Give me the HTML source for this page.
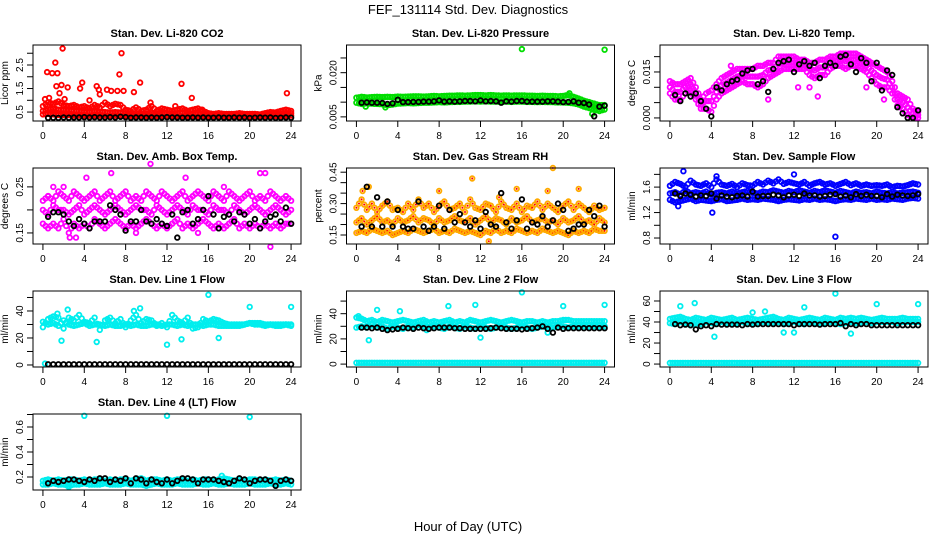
<!DOCTYPE html>
<html><head><meta charset="utf-8"><style>
html,body{margin:0;padding:0;background:#fff;}
svg{display:block;font-family:"Liberation Sans",Arial,sans-serif;}
</style></head><body>
<svg id="chart" width="936" height="540" viewBox="0 0 936 540" xmlns="http://www.w3.org/2000/svg">
<text x="468" y="14" text-anchor="middle" font-size="13">FEF_131114  Std. Dev. Diagnostics</text>
<text x="468" y="531" text-anchor="middle" font-size="13">Hour of Day (UTC)</text>
<g id="panels"></g>
</svg>
<script>
// Shared hour grid (categories)
const hours = [0,0.5,1,1.5,2,2.5,3,3.5,4,4.5,5,5.5,6,6.5,7,7.5,8,8.5,9,9.5,10,10.5,11,11.5,12,12.5,13,13.5,14,14.5,15,15.5,16,16.5,17,17.5,18,18.5,19,19.5,20,20.5,21,21.5,22,22.5,23,23.5,24];
const xTicks = [0,4,8,12,16,20,24];

// Panel 1: Li-820 CO2
const co2Lo = [0.40,0.42,0.40,0.38,0.38,0.37,0.36,0.36,0.36,0.35,0.36,0.35,0.35,0.34,0.35,0.34,0.34,0.33,0.34,0.33,0.33,0.33,0.33,0.32,0.32,0.32,0.32,0.32,0.32,0.31,0.32,0.31,0.31,0.32,0.31,0.31,0.31,0.31,0.31,0.31,0.31,0.31,0.31,0.32,0.32,0.33,0.33,0.34,0.35];
const co2Mid = [0.55,0.62,0.65,0.60,0.60,0.58,0.55,0.55,0.52,0.50,0.55,0.52,0.50,0.48,0.50,0.48,0.45,0.42,0.45,0.42,0.42,0.45,0.42,0.44,0.45,0.42,0.45,0.48,0.45,0.42,0.45,0.40,0.38,0.38,0.37,0.37,0.37,0.36,0.38,0.38,0.37,0.37,0.36,0.38,0.40,0.40,0.42,0.45,0.45];
const co2Hi = [0.75,0.90,0.85,0.95,0.80,0.75,0.80,0.70,0.75,0.65,0.80,0.70,0.90,0.75,0.85,0.80,0.60,0.55,0.70,0.55,0.60,0.75,0.55,0.65,0.60,0.55,0.60,0.65,0.55,0.60,0.65,0.55,0.45,0.42,0.45,0.42,0.42,0.42,0.45,0.42,0.42,0.42,0.40,0.45,0.50,0.48,0.55,0.60,0.55];
const co2OutH = [0.2,0.4,0.6,0.9,1.2,1.3,1.4,1.6,1.8,1.9,2.1,2.4,3.6,3.8,4.5,5.2,5.4,5.5,6.2,6.6,7.2,7.4,7.6,7.8,8.8,9.4,10.4,12.8,13.4,14.4,15.4,23.6];
const co2OutV = [1.05,2.2,1.1,2.15,2.6,1.6,2.15,1.3,1.65,3.2,1.05,1.55,1.5,1.75,1.0,1.6,1.45,1.25,1.45,1.4,1.4,2.1,3.0,1.4,1.35,1.75,0.9,0.75,1.7,1.1,0.6,1.3];
const co2Black = [null,0.25,0.26,0.25,0.27,0.26,0.27,0.27,0.28,0.27,0.28,0.27,0.27,0.28,0.27,0.30,0.28,0.26,0.27,0.27,0.26,0.27,0.26,0.27,0.28,0.27,0.27,0.26,0.26,0.27,0.26,0.27,0.26,0.26,0.27,0.26,0.26,0.27,0.26,0.27,0.25,0.26,0.27,0.26,0.27,0.25,0.26,0.27,0.26];

// Panel 2: Li-820 Pressure
const presLo = [0.0098,0.0094,0.0096,0.0095,0.0094,0.0093,0.0090,0.0092,0.0095,0.0096,0.0097,0.0096,0.0097,0.0098,0.0098,0.0099,0.0100,0.0099,0.0100,0.0101,0.0101,0.0102,0.0102,0.0103,0.0102,0.0103,0.0102,0.0102,0.0101,0.0102,0.0101,0.0102,0.0102,0.0101,0.0101,0.0100,0.0101,0.0100,0.0100,0.0099,0.0099,0.0098,0.0096,0.0092,0.0085,0.0080,0.0075,0.0070,0.0075];
const presHi = [0.0115,0.0118,0.0116,0.0117,0.0118,0.0117,0.0118,0.0117,0.0119,0.0118,0.0119,0.0120,0.0120,0.0119,0.0120,0.0121,0.0120,0.0121,0.0122,0.0122,0.0123,0.0122,0.0123,0.0124,0.0124,0.0123,0.0124,0.0123,0.0122,0.0123,0.0122,0.0123,0.0123,0.0122,0.0122,0.0121,0.0122,0.0121,0.0121,0.0120,0.0121,0.0124,0.0118,0.0112,0.0105,0.0100,0.0095,0.0090,0.0090];
const presOutH = [16,24,22.8,20.6,2.8,0.9];
const presOutV = [0.0280,0.0278,0.0060,0.0130,0.0082,0.0085];
const presBlack = [null,0.0098,0.0099,0.0098,0.0098,0.0097,0.0094,0.0096,0.0108,0.0100,0.0100,0.0101,0.0101,0.0102,0.0102,0.0103,0.0106,0.0102,0.0103,0.0102,0.0103,0.0104,0.0104,0.0103,0.0106,0.0103,0.0104,0.0103,0.0098,0.0103,0.0102,0.0104,0.0104,0.0102,0.0102,0.0102,0.0102,0.0103,0.0103,0.0102,0.0100,0.0101,0.0103,0.0098,0.0097,0.0092,0.0052,0.0085,0.0088];

// Panel 3: Li-820 Temp
const tempLo = [0.008,0.006,0.006,0.008,0.009,0.006,0.003,0.003,0.002,0.006,0.008,0.009,0.010,0.011,0.012,0.011,0.011,0.010,0.011,0.013,0.014,0.015,0.016,0.016,0.016,0.016,0.016,0.014,0.013,0.014,0.014,0.016,0.017,0.017,0.016,0.017,0.017,0.016,0.015,0.013,0.011,0.010,0.010,0.008,0.004,0.003,0.001,0.000,0.000];
const tempMid = [0.010,0.0085,0.0085,0.010,0.011,0.008,0.0045,0.0055,0.0055,0.0085,0.0105,0.0115,0.0125,0.0135,0.014,0.0135,0.0135,0.0135,0.014,0.0155,0.016,0.0175,0.018,0.018,0.018,0.0175,0.0175,0.016,0.0155,0.0165,0.0165,0.018,0.0185,0.019,0.0185,0.019,0.019,0.018,0.017,0.0155,0.014,0.013,0.0125,0.010,0.006,0.005,0.0035,0.0015,0.001];
const tempHi = [0.012,0.011,0.011,0.012,0.013,0.010,0.006,0.008,0.009,0.011,0.013,0.014,0.015,0.016,0.016,0.016,0.016,0.017,0.017,0.018,0.018,0.020,0.020,0.020,0.020,0.019,0.019,0.018,0.018,0.019,0.019,0.020,0.020,0.021,0.021,0.021,0.021,0.020,0.019,0.018,0.017,0.016,0.015,0.012,0.008,0.007,0.006,0.003,0.002];
const tempOutH = [5.9,9.5,12.4,14.3,13.5,20.7,19.0];
const tempOutV = [0.017,0.006,0.010,0.007,0.010,0.006,0.010];
const tempBlack = [null,0.0075,0.0055,0.008,0.007,0.008,0.0055,0.003,0.0005,0.010,0.009,0.011,0.012,0.0125,0.0145,0.0155,0.0160,0.011,0.0120,0.0085,0.0160,0.0180,0.0185,0.0190,0.0150,0.0175,0.0185,0.0170,0.0180,0.0130,0.0170,0.0180,0.0170,0.0200,0.0205,0.0175,0.0150,0.0195,0.0180,0.0120,0.0180,0.0090,0.0155,0.0140,0.0035,0.0015,0.0000,0.0000,0.0025];

// Panel 4: Ambient Box Temp
const boxLo = [0.17,0.16,0.17,0.16,0.18,0.15,0.17,0.16,0.17,0.16,0.18,0.17,0.16,0.17,0.18,0.17,0.16,0.17,0.16,0.17,0.18,0.17,0.16,0.17,0.16,0.17,0.18,0.16,0.17,0.16,0.17,0.18,0.17,0.16,0.17,0.16,0.17,0.18,0.16,0.17,0.16,0.17,0.16,0.17,0.16,0.17,0.16,0.17,0.17];
const boxMid = [0.20,0.19,0.21,0.20,0.20,0.19,0.20,0.21,0.19,0.20,0.21,0.20,0.19,0.20,0.21,0.20,0.19,0.20,0.21,0.20,0.20,0.19,0.21,0.20,0.19,0.20,0.21,0.20,0.19,0.21,0.20,0.20,0.19,0.21,0.20,0.20,0.19,0.21,0.20,0.19,0.20,0.21,0.20,0.19,0.20,0.21,0.20,0.19,0.20];
const boxHi = [0.22,0.23,0.22,0.24,0.23,0.22,0.24,0.23,0.22,0.23,0.24,0.22,0.23,0.24,0.22,0.23,0.24,0.22,0.23,0.22,0.24,0.23,0.22,0.24,0.23,0.22,0.23,0.24,0.22,0.23,0.24,0.23,0.22,0.24,0.23,0.22,0.24,0.23,0.22,0.23,0.24,0.22,0.23,0.22,0.24,0.23,0.22,0.23,0.22];
const boxOutH = [0.5,1.0,2.0,2.6,3.2,4.2,6.6,10.4,13.8,17.5,21.0,21.5,22.0,9.0,15.0];
const boxOutV = [0.23,0.25,0.25,0.14,0.14,0.27,0.28,0.30,0.27,0.25,0.28,0.28,0.12,0.15,0.15];
const boxBlack = [null,0.185,0.195,0.195,0.19,0.175,0.165,0.18,0.17,0.16,0.175,0.175,0.175,0.21,0.20,0.19,0.155,0.175,0.175,0.20,0.175,0.17,0.18,0.17,0.165,0.19,0.14,0.195,0.20,0.17,0.18,0.20,0.23,0.19,0.16,0.185,0.19,0.175,0.195,0.19,0.17,0.18,0.16,0.175,0.185,0.19,0.175,0.205,0.17];

// Panel 5: Gas Stream RH
const rhLo = [0.16,0.17,0.16,0.18,0.17,0.16,0.17,0.15,0.16,0.17,0.16,0.18,0.17,0.16,0.17,0.18,0.16,0.17,0.16,0.18,0.17,0.16,0.17,0.16,0.15,0.17,0.16,0.18,0.16,0.17,0.16,0.18,0.17,0.16,0.17,0.16,0.18,0.17,0.16,0.17,0.16,0.15,0.17,0.16,0.17,0.16,0.18,0.17,0.17];
const rhMid = [0.21,0.23,0.20,0.22,0.24,0.21,0.22,0.20,0.23,0.21,0.22,0.24,0.21,0.23,0.22,0.20,0.23,0.21,0.22,0.24,0.22,0.21,0.23,0.20,0.22,0.24,0.21,0.23,0.22,0.20,0.23,0.21,0.22,0.24,0.21,0.22,0.23,0.21,0.22,0.20,0.23,0.21,0.22,0.24,0.21,0.22,0.20,0.23,0.21];
const rhHi = [0.28,0.32,0.27,0.30,0.26,0.29,0.31,0.27,0.28,0.26,0.30,0.27,0.32,0.28,0.30,0.26,0.29,0.31,0.27,0.28,0.30,0.26,0.32,0.28,0.27,0.30,0.29,0.26,0.31,0.28,0.27,0.30,0.26,0.29,0.28,0.31,0.27,0.30,0.28,0.26,0.29,0.31,0.27,0.30,0.28,0.26,0.29,0.27,0.28];
const rhOutH = [1.2,8.0,11.2,15.5,18.5,19.0,21.5,12.8,0.6,13.8];
const rhOutV = [0.38,0.36,0.42,0.37,0.36,0.47,0.37,0.12,0.36,0.33];
const rhBlack = [null,0.19,0.38,0.19,0.33,0.19,0.31,0.19,0.27,0.19,0.18,0.18,0.31,0.19,0.17,0.19,0.29,0.18,0.27,0.21,0.25,0.21,0.19,0.22,0.18,0.26,0.20,0.19,0.35,0.21,0.18,0.22,0.32,0.18,0.21,0.20,0.24,0.19,0.22,0.30,0.27,0.17,0.18,0.20,0.20,0.27,0.24,0.29,0.19];

// Panel 6: Sample Flow
const flowLo = [1.40,1.36,1.38,1.40,1.42,1.38,1.40,1.39,1.38,1.40,1.41,1.38,1.39,1.40,1.42,1.40,1.41,1.40,1.42,1.41,1.40,1.38,1.40,1.41,1.40,1.39,1.41,1.40,1.42,1.40,1.41,1.40,1.38,1.40,1.41,1.40,1.42,1.41,1.40,1.42,1.40,1.41,1.40,1.42,1.41,1.40,1.42,1.43,1.42];
const flowMid = [1.50,1.52,1.48,1.55,1.50,1.52,1.50,1.53,1.48,1.51,1.52,1.50,1.53,1.50,1.52,1.54,1.51,1.50,1.53,1.52,1.55,1.53,1.51,1.54,1.52,1.55,1.53,1.51,1.54,1.52,1.55,1.53,1.51,1.54,1.52,1.50,1.53,1.51,1.52,1.50,1.53,1.51,1.50,1.52,1.50,1.51,1.52,1.53,1.51];
const flowHi = [1.62,1.68,1.65,1.60,1.70,1.64,1.62,1.66,1.60,1.72,1.64,1.62,1.65,1.60,1.66,1.63,1.62,1.68,1.64,1.70,1.66,1.72,1.65,1.68,1.66,1.64,1.68,1.62,1.66,1.68,1.64,1.66,1.62,1.65,1.68,1.63,1.66,1.62,1.64,1.62,1.63,1.62,1.64,1.60,1.62,1.61,1.63,1.66,1.64];
const flowOutH = [1.3,4.1,16.0,12.0,4.5,0.8];
const flowOutV = [1.85,1.20,0.82,1.80,1.77,1.30];
const flowBlack = [null,1.50,1.46,1.50,1.48,1.45,1.47,1.46,1.50,1.42,1.47,1.45,1.44,1.46,1.47,1.45,1.53,1.45,1.46,1.46,1.48,1.47,1.44,1.47,1.48,1.46,1.50,1.47,1.47,1.45,1.46,1.48,1.49,1.45,1.47,1.44,1.49,1.46,1.48,1.46,1.46,1.44,1.49,1.45,1.48,1.47,1.46,1.47,1.49];

// Panel 7: Line 1 Flow
const l1Main = [32,30,31,29,33,30,29,30,31,29,30,30,29,30,29,29,30,29,30,29,29,30,30,29,30,30,29,30,29,30,30,29,30,30,29,29,29,29,29,30,31,30,30,29,30,29,29,30,29];
const l1Var = [28,34,36,35,27,35,33,37,32,31,35,26,33,35,31,34,28,33,37,31,34,33,29,31,28,37,33,31,35,27,28,34,32,34,33,31,30,30,30,30,31,31,31,30,30,30,30,30,30];
const l1OutH = [16,20,24,2.4,1.8,12,9.4,5.2,8.8,1.4,13.4,17.0];
const l1OutV = [52,43,43,41,18,15,42,17,40,38,19,20];
const l1ZeroH = [0.2];
const l1ZeroV = [1];
const l1Black = [null,0.5,0.5,0.5,0.5,0.5,0.5,0.5,0.5,0.5,0.5,0.5,0.5,0.5,0.5,0.5,0.5,0.5,0.5,0.5,0.5,0.5,0.5,0.5,0.5,0.5,0.5,0.5,0.5,0.5,0.5,0.5,0.5,0.5,0.5,0.5,0.5,0.5,0.5,0.5,0.5,0.5,0.5,0.5,0.5,0.5,0.5,0.5,0.5];

// Panel 8: Line 2 Flow
const l2Hi = [37,36,34,35,33,35,34,33,34,35,34,33,34,35,33,34,33,34,35,33,34,33,35,34,33,34,35,34,33,34,35,34,33,34,34,33,34,33,34,34,35,35,34,34,34,34,34,34,34];
const l2Lo = [29,30,29,31,29,30,28,30,29,28,30,29,31,30,29,30,29,28,30,29,28,30,29,28,30,29,28,29,30,29,28,29,30,29,28,29,30,29,29,30,30,29,30,29,30,29,30,29,30];
const l2OutH = [16,20,24,1.2,12,8.9,2.0,0.2,4.2,11.5,18.5,6.8];
const l2OutV = [57,46,47,19,21,46,43,38,42,47,25,27];
const l2Zero = [1,1,1,1,1,1,1,1,1,1,1,1,1,1,1,1,1,1,1,1,1,1,1,1,1,1,1,1,1,1,1,1,1,1,1,1,1,1,1,1,1,1,1,1,1,1,1,1,1];
const l2Black = [null,29,29,28.5,29,28,27,27.5,28,29,28.5,28,29,28.5,28,28.5,29,29,29,28.5,28.5,28,28,28,28,28,28.5,29,28.5,28,28,28,27.5,28,28.5,29,30,28,25,29,28,28.5,28.5,28.5,28.5,28.5,28.5,28.5,28.5];

// Panel 9: Line 3 Flow
const l3Hi = [43,44,45,43,42,44,43,42,44,43,42,43,44,42,43,44,43,42,43,44,45,43,42,44,43,42,43,44,43,42,44,43,42,44,43,44,43,44,43,42,43,44,43,43,43,44,43,43,43];
const l3Lo = [39,38,40,39,37,39,38,40,39,38,40,39,38,39,40,38,39,38,40,39,39,40,38,39,40,39,38,40,39,38,39,40,39,38,39,40,39,39,40,39,40,40,40,40,39,40,40,40,40];
const l3OutH = [16,20,24,2.4,4.3,11,1.0,9.2,13.0,12.0,8.0,17.5];
const l3OutV = [67,57,57,58,26,30,55,50,54,30,49,29];
const l3Zero = [1,1,1,1,1,1,1,1,1,1,1,1,1,1,1,1,1,1,1,1,1,1,1,1,1,1,1,1,1,1,1,1,1,1,1,1,1,1,1,1,1,1,1,1,1,1,1,1,1];
const l3Black = [null,38,37,37.5,37,33,36,37,36,38,37.5,37.5,37.5,37.5,37,38,37.5,38,38,38,38,38,38,38,37,38,38,38,38,37.5,38,38,38,39,36,38,37,38,38,37,37,37,37,37,37,37,37,37,37];

// Panel 10: Line 4 (LT) Flow
const l4Hi = [0.17,0.18,0.17,0.18,0.17,0.18,0.18,0.17,0.18,0.17,0.18,0.18,0.17,0.18,0.17,0.18,0.18,0.17,0.18,0.19,0.17,0.18,0.18,0.17,0.18,0.17,0.18,0.18,0.17,0.18,0.17,0.18,0.18,0.17,0.18,0.19,0.18,0.17,0.18,0.17,0.18,0.18,0.17,0.18,0.17,0.18,0.17,0.18,0.17];
const l4Lo = [0.14,0.14,0.15,0.14,0.14,0.13,0.14,0.14,0.15,0.14,0.14,0.14,0.15,0.14,0.14,0.14,0.15,0.14,0.14,0.14,0.13,0.14,0.15,0.14,0.14,0.14,0.15,0.14,0.14,0.14,0.15,0.14,0.14,0.15,0.14,0.14,0.15,0.14,0.14,0.14,0.15,0.14,0.14,0.14,0.15,0.14,0.14,0.15,0.14];
const l4OutH = [4,12,20,2.5,17.3];
const l4OutV = [0.69,0.69,0.68,0.12,0.21];
const l4Black = [null,0.15,0.17,0.16,0.17,0.18,0.18,0.17,0.16,0.18,0.17,0.19,0.19,0.16,0.18,0.17,0.19,0.15,0.19,0.18,0.15,0.18,0.16,0.15,0.18,0.15,0.17,0.19,0.19,0.18,0.15,0.18,0.18,0.18,0.17,0.16,0.15,0.17,0.19,0.18,0.15,0.17,0.18,0.18,0.17,0.13,0.17,0.18,0.17];

const NS = "http://www.w3.org/2000/svg";
const root = document.getElementById('panels');
const W = 268, H = 76;
const colX = [33, 346.5, 660];
const rowY = [45, 168, 291, 414];

function mk(tag, attrs, parent) {
  const el = document.createElementNS(NS, tag);
  for (const k in attrs) el.setAttribute(k, attrs[k]);
  parent.appendChild(el);
  return el;
}

function panel(p) {
  const L = colX[p.col], T = rowY[p.row];
  const g = mk('g', {}, root);
  
  
  const xs = h => L + (h + 0.96) / 25.92 * W;
  const ys = v => T + H - (v - p.yMin) / (p.yMax - p.yMin) * H;

  const title = mk('text', {x: L + W / 2, y: T - 8, 'text-anchor': 'middle', 'font-size': 11, 'font-weight': 'bold'}, g);
  title.textContent = p.title;
  
  

  const ylab = mk('text', {x: 0, y: 0, 'text-anchor': 'middle', 'font-size': 10, transform: `translate(${L - 25},${T + H / 2}) rotate(-90)`}, g);
  ylab.textContent = p.ylabel;
  
  

  const pts = mk('g', {fill: 'none', 'stroke-width': 1.8}, g);
  
  
  function dot(h, v, color, inner) {
    if (v === null || v === undefined) return;
    const c = mk('circle', {cx: xs(h).toFixed(1), cy: ys(v).toFixed(1), r: 2.3, stroke: color}, pts);
    
    
    if (inner) {
      const d = mk('circle', {cx: xs(h).toFixed(1), cy: ys(v).toFixed(1), r: 1, fill: inner, stroke: 'none'}, pts);
      
      
    }
  }
  p.grid.forEach(arr => arr.forEach((v, i) => {
    dot(hours[i], v, p.color, p.inner);
    if (i < hours.length - 1 && arr[i + 1] !== null && v !== null) dot(hours[i] + 0.25, (v + arr[i + 1]) / 2, p.color, p.inner);
  }));
  if (p.outH) p.outH.forEach((h, i) => dot(h, p.outV[i], p.color, p.inner));
  if (p.zeroH) p.zeroH.forEach((h, i) => dot(h, p.zeroV[i], p.color));
  p.black.forEach((v, i) => dot(hours[i], v, '#000'));

  const frame = mk('rect', {x: L, y: T, width: W, height: H, fill: 'none', stroke: '#000', 'stroke-width': 1}, g);
  
  

  const xa = mk('g', {'font-size': 10, 'text-anchor': 'middle'}, g);
  
  
  xTicks.forEach(t => {
    mk('line', {x1: xs(t), x2: xs(t), y1: T + H, y2: T + H + 6, stroke: '#000'}, xa);
    const tl = mk('text', {x: xs(t), y: T + H + 18}, xa);
    tl.textContent = String(t);
    
    
  });
  const ya = mk('g', {'font-size': 10, 'text-anchor': 'middle'}, g);
  
  
  p.yTicks.forEach(t => {
    mk('line', {x1: L - 6, x2: L, y1: ys(t), y2: ys(t), stroke: '#000'}, ya);
  });
  p.yLabels.forEach((t, i) => {
    const tl = mk('text', {x: 0, y: 0, transform: `translate(${L - 10},${ys(t)}) rotate(-90)`}, ya);
    tl.textContent = p.yLabelText[i];
    
    
  });
}

panel({name:'co2', col:0,row:0,title:'Stan. Dev. Li-820 CO2',ylabel:'Licor ppm',yMin:0.12,yMax:3.35,
  yTicks:[0.5,1,1.5,2,2.5,3],yLabels:[0.5,1.5,2.5],yLabelText:['0.5','1.5','2.5'],
  color:'#ff0000',grid:[co2Lo,co2Mid,co2Hi],outH:co2OutH,outV:co2OutV,black:co2Black});
panel({name:'pressure', col:1,row:0,title:'Stan. Dev. Li-820 Pressure',ylabel:'kPa',yMin:0.0036,yMax:0.0294,
  yTicks:[0.005,0.010,0.015,0.020,0.025],yLabels:[0.005,0.020],yLabelText:['0.005','0.020'],
  color:'#00dd00',grid:[presLo,presHi],outH:presOutH,outV:presOutV,black:presBlack});
panel({name:'li820-temp', col:2,row:0,title:'Stan. Dev. Li-820 Temp.',ylabel:'degrees C',yMin:-0.001,yMax:0.0238,
  yTicks:[0,0.005,0.010,0.015,0.020],yLabels:[0,0.015],yLabelText:['0.000','0.015'],
  color:'#ff00ff',grid:[tempLo,tempMid,tempHi],outH:tempOutH,outV:tempOutV,black:tempBlack});
panel({name:'box-temp', col:0,row:1,title:'Stan. Dev. Amb. Box Temp.',ylabel:'degrees C',yMin:0.126,yMax:0.291,
  yTicks:[0.15,0.20,0.25],yLabels:[0.15,0.25],yLabelText:['0.15','0.25'],
  color:'#ff00ff',grid:[boxLo,boxMid,boxHi],outH:boxOutH,outV:boxOutV,black:boxBlack});
panel({name:'gas-rh', col:1,row:1,title:'Stan. Dev. Gas Stream RH',ylabel:'percent',yMin:0.107,yMax:0.47,
  yTicks:[0.15,0.20,0.25,0.30,0.35,0.40,0.45],yLabels:[0.15,0.30,0.45],yLabelText:['0.15','0.30','0.45'],
  color:'#ffaa00',inner:'#ff0000',grid:[rhLo,rhMid,rhHi],outH:rhOutH,outV:rhOutV,black:rhBlack});
panel({name:'sample-flow', col:2,row:1,title:'Stan. Dev. Sample Flow',ylabel:'ml/min',yMin:0.706,yMax:1.9,
  yTicks:[0.8,1.0,1.2,1.4,1.6,1.8],yLabels:[0.8,1.2,1.6],yLabelText:['0.8','1.2','1.6'],
  color:'#0000ff',grid:[flowLo,flowMid,flowHi],outH:flowOutH,outV:flowOutV,black:flowBlack});
panel({name:'line1-flow', col:0,row:2,title:'Stan. Dev. Line 1 Flow',ylabel:'ml/min',yMin:-1.5,yMax:54.8,
  yTicks:[0,10,20,30,40,50],yLabels:[0,20,40],yLabelText:['0','20','40'],
  color:'#00eeee',grid:[l1Main,l1Var],outH:l1OutH,outV:l1OutV,zeroH:l1ZeroH,zeroV:l1ZeroV,black:l1Black});
panel({name:'line2-flow', col:1,row:2,title:'Stan. Dev. Line 2 Flow',ylabel:'ml/min',yMin:-2.3,yMax:58,
  yTicks:[0,10,20,30,40,50],yLabels:[0,20,40],yLabelText:['0','20','40'],
  color:'#00eeee',grid:[l2Hi,l2Lo,l2Zero],outH:l2OutH,outV:l2OutV,black:l2Black});
panel({name:'line3-flow', col:2,row:2,title:'Stan. Dev. Line 3 Flow',ylabel:'ml/min',yMin:-2.8,yMax:69.5,
  yTicks:[0,10,20,30,40,50,60],yLabels:[0,20,40,60],yLabelText:['0','20','40','60'],
  color:'#00eeee',grid:[l3Hi,l3Lo,l3Zero],outH:l3OutH,outV:l3OutV,black:l3Black});
panel({name:'line4-flow', col:0,row:3,title:'Stan. Dev. Line 4 (LT) Flow',ylabel:'ml/min',yMin:0.096,yMax:0.704,
  yTicks:[0.2,0.3,0.4,0.5,0.6,0.7],yLabels:[0.2,0.4,0.6],yLabelText:['0.2','0.4','0.6'],
  color:'#00eeee',grid:[l4Hi,l4Lo],outH:l4OutH,outV:l4OutV,black:l4Black});
</script>
</body></html>
